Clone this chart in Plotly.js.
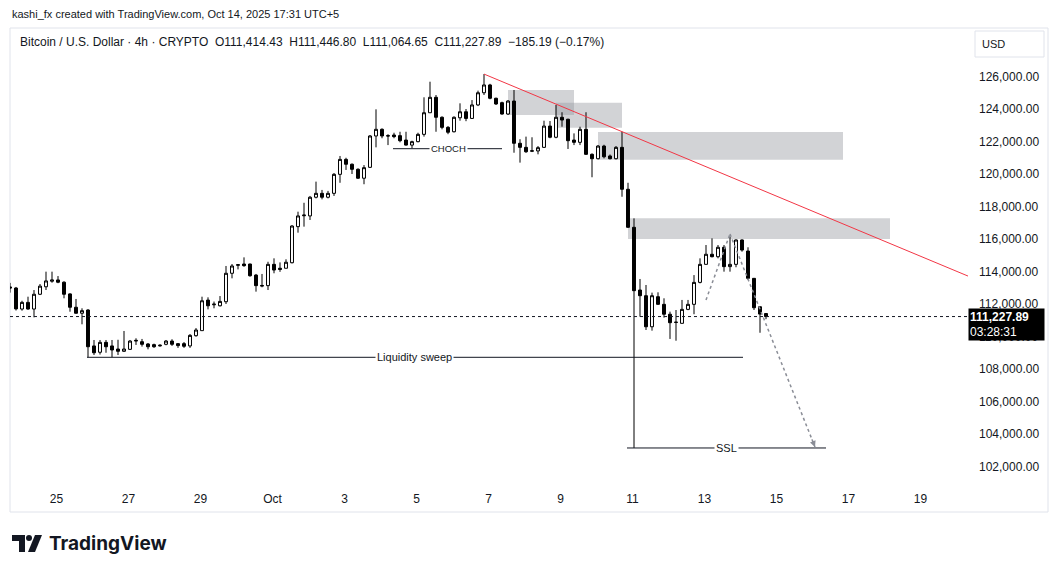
<!DOCTYPE html>
<html><head><meta charset="utf-8">
<script src="https://cdn.plot.ly/plotly-3.0.1.min.js"></script>
<style>html,body{margin:0;padding:0;background:#fff;}#chart{width:1058px;height:573px;}</style>
</head><body><div id="chart"></div>
<script>
// ---------- DATA (BTCUSD 4h; local time UTC+5) ----------
const firstCandleTime = '2025-09-23 17:00:00';
const candleHours = 4;
const opens = [113050,112985,111690,112100,111690,112600,113060,113400,113480,113340,112620,111800,111430,111630,109420,109030,109640,109420,109230,109090,109210,109720,109680,109540,109500,109420,109520,109720,109560,109560,109420,110050,110360,112240,111950,111890,112140,113890,114380,114460,114460,113780,113100,113130,114440,114200,114200,114540,116760,117430,117420,118570,118810,118570,118810,119980,120900,120600,120290,119740,120410,122340,122750,122360,122400,122360,122090,121780,121990,122440,123770,124720,123490,122870,122600,123460,123830,123420,124250,125000,125480,124660,124390,123690,124490,121890,121640,121400,121420,121640,122950,122260,123490,123370,122090,121950,122750,121210,120940,121720,121110,120940,121640,119060,116720,112860,112510,110600,112450,111980,111370,110860,110810,111670,111980,113330,114440,115060,114910,115490,114300,114440,115940,115260,113580,111830,111414.43];
const highs = [113300,113050,112200,112450,112860,113230,113990,113990,113720,113400,112660,112310,111735,111680,109785,109785,109785,109785,109800,110340,109785,109890,109850,109600,109560,109520,109785,109830,109600,109660,110150,110520,112450,112410,112150,112490,114340,114460,114460,114870,114480,113850,113850,114600,114810,114560,114750,116850,117680,118230,118650,119530,119020,118960,120060,121110,121000,120650,120350,120550,122400,123980,122810,122450,122540,122600,122600,122050,122540,124720,125680,124860,123550,122950,123550,124350,124000,124550,125130,126150,125550,124700,124450,124550,125170,122140,122300,122260,121720,123280,123260,124250,123800,123400,122500,122910,123800,121270,121780,121800,121200,121720,122600,119460,117270,113540,113170,112700,112720,112350,111530,111630,112250,112250,113780,114810,115630,116040,115630,115630,116140,115980,115980,115490,113600,111850,111446.80];
const lows = [112700,111600,111590,111650,111180,112550,112860,113310,113280,112350,111525,111420,110750,108720,108860,108890,109000,108720,108860,109050,109170,109480,109380,109210,109300,109380,109460,109420,109300,109300,109300,109990,110360,111670,111735,111850,112000,113580,114130,114290,113680,112760,113030,112860,113890,113980,114200,114500,116390,116760,117170,118500,118440,118500,118650,119460,120250,120000,119700,119370,120370,121640,122200,121780,122200,121950,121750,121580,121950,122300,123770,122600,122750,122450,122560,123280,123250,123400,124180,124860,124600,124250,123650,123630,121310,120700,121300,121350,121210,121600,122200,122200,122910,121540,121780,121780,121180,119800,120900,120960,120900,120900,118600,116700,103140,111220,110400,110360,111950,111160,109850,109740,110810,111620,111370,113270,114440,114870,114810,113990,113990,114260,115220,113480,111630,110230,111064.65];
const closes = [112985,111700,112100,111690,112600,113100,113420,113480,113340,112600,111800,111430,111590,109370,109000,109640,109370,109170,109090,109230,109720,109760,109520,109370,109370,109460,109720,109520,109440,109400,110070,110400,112200,111890,111990,112160,113890,114340,114420,114360,113740,113130,113140,114440,114090,114130,114570,116800,117420,117470,118570,118810,118570,118810,119980,120900,120600,120290,119740,120390,122340,122750,122340,122340,122300,122050,121780,121990,122440,123770,124720,123490,122870,122570,123490,123830,123420,124250,125000,125480,124660,124310,123690,124490,121890,121640,121370,121430,121620,122950,122260,123490,123320,122050,121950,122750,121210,120940,121720,121060,120940,121640,119060,116720,112820,112510,110600,112510,111980,111370,110850,110880,111670,111980,113330,114440,115060,114910,115490,114300,114440,115940,115320,113580,111770,111380,111227.89];
const lastPrice = 111227.89;
const lastPriceText = '111,227.89';
const countdownText = '03:28:31';

const xTickDates = ['2025-09-25','2025-09-27','2025-09-29','2025-10-01','2025-10-03','2025-10-05','2025-10-07','2025-10-09','2025-10-11','2025-10-13','2025-10-15','2025-10-17','2025-10-19'];
const xTickLabels = ['25','27','29','Oct','3','5','7','9','11','13','15','17','19'];
const yTickValues = [102000,104000,106000,108000,110000,112000,114000,116000,118000,120000,122000,124000,126000];

// drawings (date, price)
const trendLine = [['2025-10-06 21:00', 126150], ['2025-10-20 07:40', 113720]];
const zoneBoxes = [
  ['2025-10-07 13:00','2025-10-09 09:00',123631,125169],
  ['2025-10-08 21:00','2025-10-10 17:00',122850,124390],
  ['2025-10-10 01:00','2025-10-16 20:20',120880,122585],
  ['2025-10-10 21:00','2025-10-18 03:40',116000,117274]
];
const levelLines = [
  {label:'CHOCH', x0:'2025-10-04 08:20', x1:'2025-10-07 09:00', price:121557, labelAt:'2025-10-05 21:00', size:9.5},
  {label:'Liquidity sweep', x0:'2025-09-25 20:20', x1:'2025-10-14 01:40', price:108720, labelAt:'2025-10-04 22:30', size:11},
  {label:'SSL', x0:'2025-10-10 20:20', x1:'2025-10-16 09:00', price:103140, labelAt:'2025-10-13 14:20', size:11}
];
const projectionPath = [['2025-10-13 01:00',112246],['2025-10-13 17:00',116308],['2025-10-16 01:40',103200]];

// ---------- LAYOUT ----------
const W=1058, H=573, PL=10, PR=968, PT=28, PB=484;
const FONT = '"Liberation Sans", Arial, sans-serif';
const TXT = '#131722';
const px2x = x => (x-PL)/(PR-PL);
const px2y = y => (PB-y)/(PB-PT);

function addHours(s, h){
  const d = new Date(s.replace(' ','T')+'Z');
  return new Date(d.getTime()+h*3600e3).toISOString().slice(0,19).replace('T',' ');
}
const times = opens.map((_,k)=>addHours(firstCandleTime, k*candleHours));

const trace = {
  type:'candlestick', x:times, open:opens, high:highs, low:lows, close:closes,
  increasing:{line:{color:'#000000',width:1}, fillcolor:'#ffffff'},
  decreasing:{line:{color:'#000000',width:1}, fillcolor:'#000000'},
  whiskerwidth:0, hoverinfo:'skip', showlegend:false
};

const shapes = [];
shapes.push({type:'rect', xref:'paper', yref:'paper', x0:px2x(10), x1:px2x(1048), y0:px2y(512), y1:px2y(28), line:{color:'#e0e3eb',width:1}, fillcolor:'rgba(0,0,0,0)', layer:'below'});
zoneBoxes.forEach(b=>shapes.push({type:'rect', xref:'x', yref:'y', x0:b[0], x1:b[1], y0:b[2], y1:b[3], line:{width:0}, fillcolor:'rgba(150,152,160,0.43)', layer:'below'}));
shapes.push({type:'line', xref:'x', yref:'y', x0:trendLine[0][0], y0:trendLine[0][1], x1:trendLine[1][0], y1:trendLine[1][1], line:{color:'#f23645', width:1}});
levelLines.forEach(l=>shapes.push({type:'line', xref:'x', yref:'y', x0:l.x0, x1:l.x1, y0:l.price, y1:l.price, line:{color:TXT, width:1}}));
for(let k=0;k<projectionPath.length-1;k++){
  shapes.push({type:'line', xref:'x', yref:'y', x0:projectionPath[k][0], y0:projectionPath[k][1], x1:projectionPath[k+1][0], y1:projectionPath[k+1][1], line:{color:'#8a8d96', width:1.5, dash:'dot'}});
}
shapes.push({type:'line', xref:'paper', yref:'y', x0:0, x1:1, y0:lastPrice, y1:lastPrice, line:{color:TXT, width:1, dash:'dot'}});
// USD box
shapes.push({type:'rect', xref:'paper', yref:'paper', x0:px2x(975), x1:px2x(1044), y0:px2y(57), y1:px2y(31), line:{color:'#e0e3eb',width:1}, fillcolor:'#ffffff'});
// TradingView logo
const logoPath = (pts)=>'M'+pts.map(p=>px2x(p[0])+','+px2y(p[1])).join(' L')+' Z';
shapes.push({type:'path', xref:'paper', yref:'paper', path:logoPath([[12,535],[25,535],[25,552],[19,552],[19,541],[12,541]]), fillcolor:'#131722', line:{width:0}});
shapes.push({type:'circle', xref:'paper', yref:'paper', x0:px2x(26), x1:px2x(32), y0:px2y(541), y1:px2y(535), fillcolor:'#131722', line:{width:0}});
shapes.push({type:'path', xref:'paper', yref:'paper', path:logoPath([[35,535],[42,535],[35,552],[28,552]]), fillcolor:'#131722', line:{width:0}});

const annotations = [];
annotations.push({xref:'paper', yref:'paper', x:px2x(10), y:px2y(14), xanchor:'left', yanchor:'middle', showarrow:false, text:'kashi_fx created with TradingView.com, Oct 14, 2025 17:31 UTC+5', font:{family:FONT, size:11, color:TXT}});
annotations.push({xref:'paper', yref:'paper', x:px2x(18), y:px2y(42), xanchor:'left', yanchor:'middle', showarrow:false, text:'Bitcoin / U.S. Dollar · 4h · CRYPTO\u00a0\u00a0O111,414.43\u00a0\u00a0H111,446.80\u00a0\u00a0L111,064.65\u00a0\u00a0C111,227.89\u00a0\u00a0−185.19 (−0.17%)', font:{family:FONT, size:12, color:TXT}});
annotations.push({xref:'paper', yref:'paper', x:px2x(980), y:px2y(44), xanchor:'left', yanchor:'middle', showarrow:false, text:'USD', font:{family:FONT, size:11, color:TXT}});
levelLines.forEach(l=>annotations.push({xref:'x', yref:'y', x:l.labelAt, y:l.price, showarrow:false, text:l.label, font:{family:FONT, size:l.size, color:TXT}, bgcolor:'#ffffff', borderpad:1}));
const pEnd = projectionPath[projectionPath.length-1];
annotations.push({xref:'x', yref:'y', x:pEnd[0], y:pEnd[1], showarrow:true, ax:-3.7, ay:-9.3, arrowhead:2, arrowsize:1, arrowwidth:1.2, arrowcolor:'#8a8d96', text:''});
annotations.push({xref:'paper', yref:'y', x:1, y:lastPrice, xanchor:'left', yanchor:'top', yshift:9, showarrow:false, align:'left', width:73, height:29, bgcolor:'#000000', borderpad:1, text:'<b>'+lastPriceText+'</b><br>'+countdownText, font:{family:FONT, size:12, color:'#ffffff'}});
annotations.push({xref:'paper', yref:'paper', x:px2x(47), y:px2y(543), xanchor:'left', yanchor:'middle', showarrow:false, text:'<b>TradingView</b>', font:{family:'Inter, "Liberation Sans", sans-serif', size:19, color:TXT}});

const layout = {
  width:W, height:H, margin:{l:PL, r:W-PR, t:PT, b:H-PB, pad:0},
  paper_bgcolor:'#ffffff', plot_bgcolor:'#ffffff', showlegend:false,
  xaxis:{type:'date', range:['2025-09-23 17:00','2025-10-20 07:40'], rangeslider:{visible:false}, showgrid:false, zeroline:false, showline:false,
    tickmode:'array', tickvals:xTickDates, ticktext:xTickLabels, ticks:'', ticklabelstandoff:6, tickfont:{family:FONT, size:12, color:TXT}, fixedrange:true},
  yaxis:{side:'right', range:[100923,128985], showgrid:false, zeroline:false, showline:false, tickmode:'array', tickvals:yTickValues, tickformat:',.2f',
    ticks:'', ticklabelstandoff:10, tickfont:{family:FONT, size:12, color:TXT}, fixedrange:true},
  shapes:shapes, annotations:annotations
};
Plotly.newPlot('chart',[trace],layout,{staticPlot:true, displayModeBar:false});
</script></body></html>
